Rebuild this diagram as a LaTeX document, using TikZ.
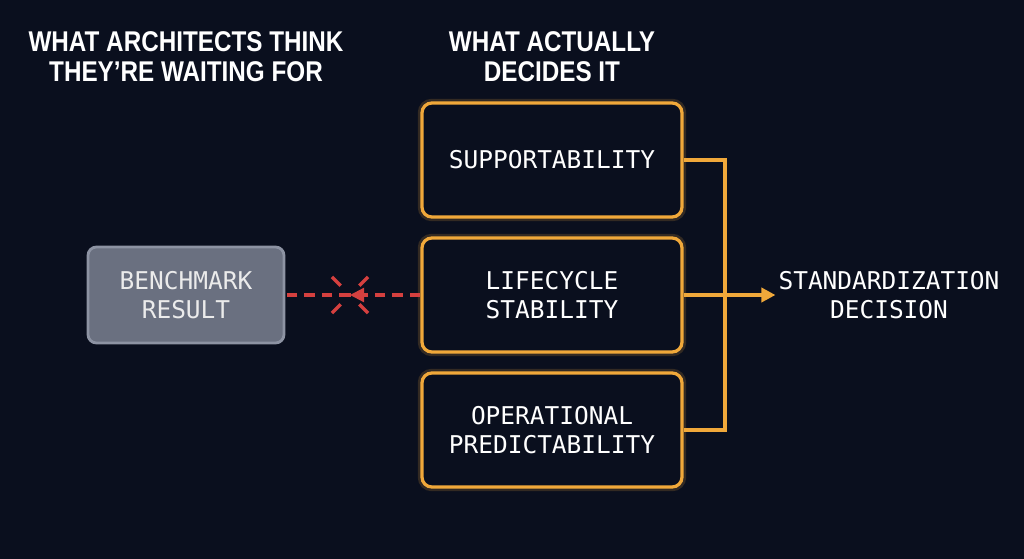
\documentclass[tikz,border=0pt]{standalone}
\usepackage{fontspec}
\usepackage{tikz}
\usetikzlibrary{arrows.meta}
\usepackage{xcolor}

\newfontfamily\headfont{Liberation Sans}[FakeStretch=0.85]
\newfontfamily\labelfont{DejaVu Sans Mono}

\definecolor{bgnavy}{HTML}{0A0F1E}
\definecolor{amber}{HTML}{F0A83A}
\definecolor{slatefill}{HTML}{6A7080}
\definecolor{slateedge}{HTML}{8D93A3}
\definecolor{cutred}{HTML}{D5403F}

\begin{document}
\begin{tikzpicture}[>={Triangle[length=10pt,width=10pt]},
    heading/.style={text=white, align=center, font=\headfont\bfseries\fontsize{20.3}{21.3}\selectfont},
    factor/.style={draw=amber, line width=2.3pt, rounded corners=7pt, fill=bgnavy,
        minimum width=6.5cm, minimum height=2.85cm, text=white, align=center,
        font=\labelfont\fontsize{17.4}{20.6}\selectfont,
        preaction={draw=amber, line width=6pt, opacity=0.18}},
    bench/.style={draw=slateedge, line width=2pt, rounded corners=6pt, fill=slatefill,
        minimum width=4.9cm, minimum height=2.4cm, text=black!8, align=center,
        font=\labelfont\fontsize{17.4}{20.6}\selectfont},
    conn/.style={draw=amber, line width=2.6pt},
    cutline/.style={draw=cutred, line width=2.2pt, dash pattern=on 7.5pt off 5pt}]

    % canvas
    \fill[bgnavy] (0,0) rectangle (25.6,-13.975);
    \useasboundingbox (0,0) rectangle (25.6,-13.975);

    \node[heading] (headA) at (4.65,-1.425) {WHAT ARCHITECTS THINK\\THEY’RE WAITING FOR};
    \node[heading] (headB) at (13.8,-1.425) {WHAT ACTUALLY\\DECIDES IT};

    \node[factor] (sup) at (13.8,-4.0) {SUPPORTABILITY};
    \node[factor] (life) at (13.8,-7.375) {LIFECYCLE\\STABILITY};
    \node[factor] (oper) at (13.8,-10.75) {OPERATIONAL\\PREDICTABILITY};

    \node[bench] (bench) at (4.65,-7.375) {BENCHMARK\\RESULT};

    \node[text=white, align=center, inner sep=2pt, font=\labelfont\fontsize{17.4}{20.6}\selectfont]
        (decision) at (22.225,-7.375) {STANDARDIZATION\\DECISION};

    \coordinate (bar) at (18.125,-7.375);
    \coordinate (cut) at (8.75,-7.375);

    % the factors feed the decision
    \draw[conn] (sup.east) -| (bar);
    \draw[conn] (oper.east) -| (bar);
    \draw[conn,->] (life.east) -- (decision.west);

    % broken link to the benchmark
    \draw[cutline] (life.west) -- (cut);
    \draw[cutline] (cut) -- (bench.east);
    \draw[cutred, line width=1.6pt, ->] ([xshift=8pt]cut) -- (cut);
    \foreach \a in {45,135,225,315}
        \draw[cutred, line width=2.4pt] ([shift={(\a:0.33)}]cut) -- ([shift={(\a:0.64)}]cut);
\end{tikzpicture}
\end{document}
